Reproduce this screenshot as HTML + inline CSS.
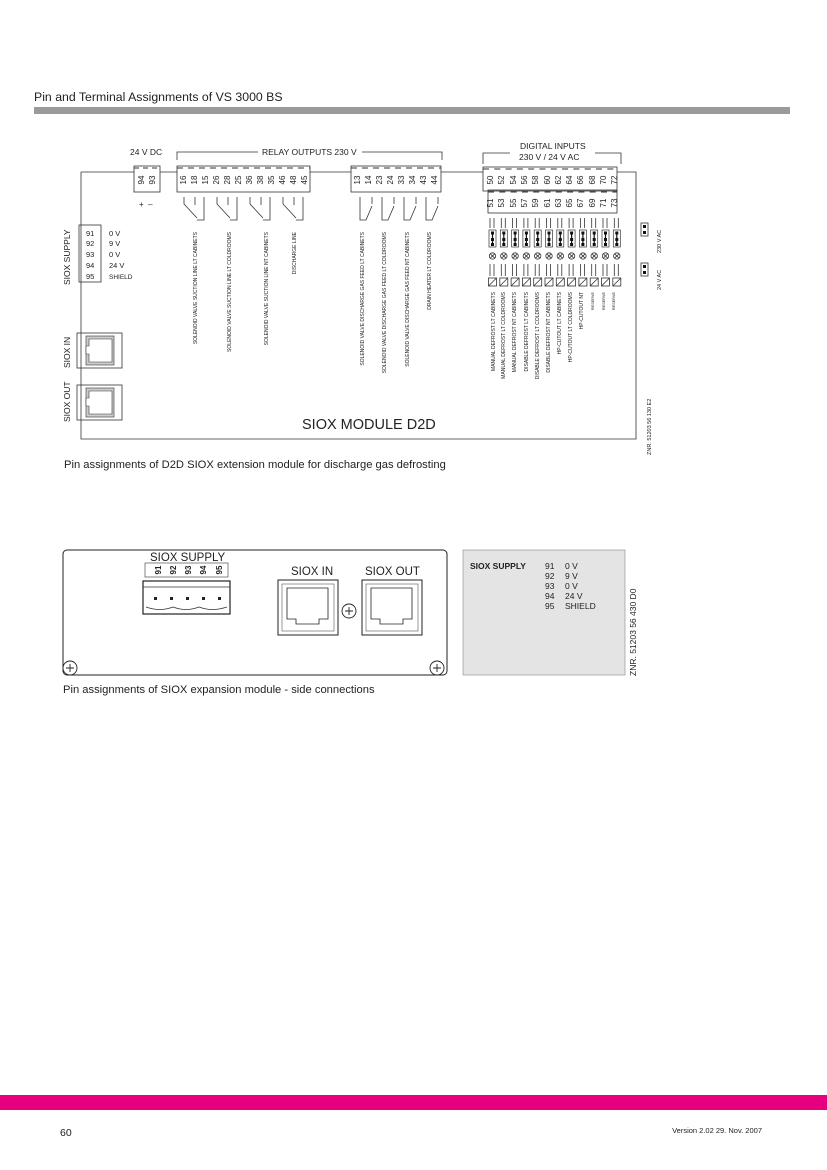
<!DOCTYPE html>
<html><head><meta charset="utf-8"><style>
body{margin:0;background:#fff}
svg{display:block}
text{font-family:"Liberation Sans",sans-serif;fill:#222}
.l{fill:none;stroke:#333;stroke-width:0.8}
.t{font-size:5px;fill:#333}
.n{font-size:8px;fill:#444}
</style></head><body>
<svg width="827" height="1170" viewBox="0 0 827 1170" xmlns="http://www.w3.org/2000/svg">
<rect width="827" height="1170" fill="#fff"/>
<text x="34" y="101" font-size="12.3">Pin and Terminal Assignments of VS 3000 BS</text>
<rect x="34" y="107" width="756" height="7" fill="#9a9a9a"/>

<!-- main frame -->
<path class="l" d="M81,172 H134 M160,172 H177 M310,172 H351 M441,172 H483 M617,172 H636 V439 H81 V172"/>
<!-- 24V DC -->
<text x="130" y="155" font-size="8.5" fill="#333">24 V DC</text>
<rect class="l" x="134" y="166" width="26" height="26" fill="#fff"/>
<line x1="134" y1="168" x2="160" y2="168" stroke="#333" stroke-dasharray="5,4"/>
<g class="n"><text transform="translate(144,180) rotate(-90)" text-anchor="middle">94</text><text transform="translate(155,180) rotate(-90)" text-anchor="middle">93</text></g>
<text x="139" y="207" font-size="8" fill="#666">+ &#160;&#8211;</text>

<!-- relay bracket -->
<path class="l" d="M177,160 V152 H258 M362,152 H442 V160"/>
<text x="262" y="155" font-size="8.5" fill="#333">RELAY OUTPUTS 230 V</text>
<rect class="l" x="177" y="166" width="133" height="26" fill="#fff"/>
<line x1="177" y1="168" x2="310" y2="168" stroke="#333" stroke-dasharray="6,5"/>
<rect class="l" x="351" y="166" width="90" height="26" fill="#fff"/>
<line x1="351" y1="168" x2="441" y2="168" stroke="#333" stroke-dasharray="6,5"/>
<g class="n" text-anchor="middle">
<text transform="translate(186,180) rotate(-90)">16</text><text transform="translate(197,180) rotate(-90)">18</text><text transform="translate(208,180) rotate(-90)">15</text>
<text transform="translate(219,180) rotate(-90)">26</text><text transform="translate(230,180) rotate(-90)">28</text><text transform="translate(241,180) rotate(-90)">25</text>
<text transform="translate(252,180) rotate(-90)">36</text><text transform="translate(263,180) rotate(-90)">38</text><text transform="translate(274,180) rotate(-90)">35</text>
<text transform="translate(285,180) rotate(-90)">46</text><text transform="translate(296,180) rotate(-90)">48</text><text transform="translate(307,180) rotate(-90)">45</text>
<text transform="translate(360,180) rotate(-90)">13</text><text transform="translate(371,180) rotate(-90)">14</text><text transform="translate(382,180) rotate(-90)">23</text><text transform="translate(393,180) rotate(-90)">24</text>
<text transform="translate(404,180) rotate(-90)">33</text><text transform="translate(415,180) rotate(-90)">34</text><text transform="translate(426,180) rotate(-90)">43</text><text transform="translate(437,180) rotate(-90)">44</text>
</g>
<!-- switches -->
<g class="l">
<path d="M184,197 V204 L197,218 M195,197 V205 M204,197 V220 H197"/>
<path d="M217,197 V204 L230,218 M228,197 V205 M237,197 V220 H230"/>
<path d="M250,197 V204 L263,218 M261,197 V205 M270,197 V220 H263"/>
<path d="M283,197 V204 L296,218 M294,197 V205 M303,197 V220 H296"/>
<path d="M360,197 V220 H366 L372,206 M372,197 V204"/>
<path d="M382,197 V220 H388 L394,206 M394,197 V204"/>
<path d="M404,197 V220 H410 L416,206 M416,197 V204"/>
<path d="M426,197 V220 H432 L438,206 M438,197 V204"/>
</g>
<g class="t" text-anchor="end">
<text transform="translate(197,232) rotate(-90)">SOLENOID VALVE SUCTION LINE LT CABINETS</text>
<text transform="translate(231,232) rotate(-90)">SOLENOID VALVE SUCTION LINE LT COLDROOMS</text>
<text transform="translate(268,232) rotate(-90)">SOLENOID VALVE SUCTION LINE NT CABINETS</text>
<text transform="translate(296,232) rotate(-90)">DISCHARGE LINE</text>
<text transform="translate(364,232) rotate(-90)">SOLENOID VALVE  DISCHARGE GAS FEED LT CABINETS</text>
<text transform="translate(386,232) rotate(-90)">SOLENOID VALVE  DISCHARGE GAS FEED LT COLDROOMS</text>
<text transform="translate(409,232) rotate(-90)">SOLENOID VALVE  DISCHARGE GAS FEED NT CABINETS</text>
<text transform="translate(431,232) rotate(-90)">DRAIN HEATER LT COLDROOMS</text>
</g>

<!-- SIOX supply -->
<text transform="translate(70,285) rotate(-90)" font-size="8.5" fill="#333">SIOX SUPPLY</text>
<rect class="l" x="79" y="225" width="22" height="57" fill="#fff"/>
<g font-size="7.5" fill="#444">
<text x="86" y="236">91</text><text x="86" y="246">92</text><text x="86" y="257">93</text><text x="86" y="268">94</text><text x="86" y="279">95</text>
<text x="109" y="236">0 V</text><text x="109" y="246">9 V</text><text x="109" y="257">0 V</text><text x="109" y="268">24 V</text><text x="109" y="279" font-size="6.5">SHIELD</text>
</g>
<text transform="translate(70,368) rotate(-90)" font-size="8.5" fill="#333">SIOX IN</text>
<text transform="translate(70,422) rotate(-90)" font-size="8.5" fill="#333">SIOX OUT</text>
<g>
<rect class="l" x="77" y="333" width="45" height="35" fill="#fff"/>
<rect x="86" y="336" width="28" height="29" fill="#ccc" stroke="#333" stroke-width="0.6"/>
<path d="M89,339 H112 V362 H89 V354 H86 V346 H89 Z" fill="#fff" stroke="#333" stroke-width="0.6"/>
<rect class="l" x="77" y="385" width="45" height="35" fill="#fff"/>
<rect x="86" y="388" width="28" height="29" fill="#ccc" stroke="#333" stroke-width="0.6"/>
<path d="M89,391 H112 V414 H89 V406 H86 V398 H89 Z" fill="#fff" stroke="#333" stroke-width="0.6"/>
</g>
<text x="302" y="429" font-size="14.5" fill="#333">SIOX MODULE D2D</text>

<!-- digital inputs -->
<text x="520" y="149" font-size="8.5" fill="#333">DIGITAL INPUTS</text>
<text x="519" y="160" font-size="8.5" fill="#333">230 V / 24 V AC</text>
<path class="l" d="M483,164 V153 H510 M595,153 H621 V164"/>
<rect class="l" x="483" y="167" width="134" height="24" fill="#fff"/>
<line x1="483" y1="169" x2="617" y2="169" stroke="#333" stroke-dasharray="6,5.3"/>
<rect class="l" x="488" y="190" width="129" height="23" fill="#fff"/>
<line x1="488" y1="192" x2="617" y2="192" stroke="#333" stroke-dasharray="6,5.3"/>
<g class="n" text-anchor="middle">
<text transform="translate(493,180) rotate(-90)">50</text><text transform="translate(504,180) rotate(-90)">52</text><text transform="translate(516,180) rotate(-90)">54</text><text transform="translate(527,180) rotate(-90)">56</text><text transform="translate(538,180) rotate(-90)">58</text><text transform="translate(550,180) rotate(-90)">60</text><text transform="translate(561,180) rotate(-90)">62</text><text transform="translate(572,180) rotate(-90)">64</text><text transform="translate(583,180) rotate(-90)">66</text><text transform="translate(595,180) rotate(-90)">68</text><text transform="translate(606,180) rotate(-90)">70</text><text transform="translate(617,180) rotate(-90)">72</text>
<text transform="translate(493,203) rotate(-90)">51</text><text transform="translate(504,203) rotate(-90)">53</text><text transform="translate(516,203) rotate(-90)">55</text><text transform="translate(527,203) rotate(-90)">57</text><text transform="translate(538,203) rotate(-90)">59</text><text transform="translate(550,203) rotate(-90)">61</text><text transform="translate(561,203) rotate(-90)">63</text><text transform="translate(572,203) rotate(-90)">65</text><text transform="translate(583,203) rotate(-90)">67</text><text transform="translate(595,203) rotate(-90)">69</text><text transform="translate(606,203) rotate(-90)">71</text><text transform="translate(617,203) rotate(-90)">73</text>
</g>
<g id="dcol">
<path class="l" d="M490,218 V228 M494,218 V228 M490,264 V276 M494,264 V276"/>
<rect x="489" y="230" width="7" height="17" fill="#fff" stroke="#333" stroke-width="0.7"/>
<path d="M492.5,233 V244" stroke="#111" stroke-width="1.2"/>
<rect x="491" y="231.5" width="3" height="3" fill="#111"/><rect x="491" y="238" width="3" height="3" fill="#111"/><rect x="491" y="243" width="3" height="3" fill="#111"/>
<circle class="l" cx="492.5" cy="256" r="3.2"/>
<path class="l" d="M490.3,253.8 L494.7,258.2 M494.7,253.8 L490.3,258.2"/>
<rect class="l" x="488.5" y="278" width="8" height="8"/>
<path class="l" d="M488.5,286 L496.5,278"/>
</g>
<use href="#dcol" x="11.3"/><use href="#dcol" x="22.6"/><use href="#dcol" x="33.9"/><use href="#dcol" x="45.2"/><use href="#dcol" x="56.5"/><use href="#dcol" x="67.8"/><use href="#dcol" x="79.1"/><use href="#dcol" x="90.4"/><use href="#dcol" x="101.7"/><use href="#dcol" x="113"/><use href="#dcol" x="124.3"/>
<g class="t" text-anchor="end">
<text transform="translate(495,292) rotate(-90)">MANUAL DEFROST LT CABINETS</text>
<text transform="translate(505,292) rotate(-90)">MANUAL DEFROST LT COLDROOMS</text>
<text transform="translate(516,292) rotate(-90)">MANUAL DEFROST NT CABINETS</text>
<text transform="translate(528,292) rotate(-90)">DISABLE DEFROST LT CABINETS</text>
<text transform="translate(539,292) rotate(-90)">DISABLE DEFROST LT COLDROOMS</text>
<text transform="translate(550,292) rotate(-90)">DISABLE DEFROST NT CABINETS</text>
<text transform="translate(561,292) rotate(-90)">HP-CUTOUT LT CABINETS</text>
<text transform="translate(572,292) rotate(-90)">HP-CUTOUT LT COLDROOMS</text>
<text transform="translate(583,292) rotate(-90)">HP-CUTOUT NT</text>
<text transform="translate(594,292) rotate(-90)" font-size="3.8">RESERVE</text>
<text transform="translate(605,292) rotate(-90)" font-size="3.8">RESERVE</text>
<text transform="translate(615,292) rotate(-90)" font-size="3.8">RESERVE</text>
</g>
<rect class="l" x="641" y="223" width="7" height="13"/><rect x="643" y="225" width="3" height="3" fill="#111"/><rect x="643" y="231" width="3" height="3" fill="#111"/>
<rect class="l" x="641" y="263" width="7" height="13"/><rect x="643" y="265" width="3" height="3" fill="#111"/><rect x="643" y="271" width="3" height="3" fill="#111"/>
<g font-size="5.5" fill="#555">
<text transform="translate(661,253) rotate(-90)">230 V AC</text>
<text transform="translate(661,290) rotate(-90)">24 V AC</text>
<text transform="translate(651,455) rotate(-90)">ZNR. 51203 56 130 E2</text>
</g>

<text x="64" y="468" font-size="11.2">Pin assignments of D2D SIOX extension module for discharge gas defrosting</text>

<!-- lower panel -->
<rect x="63" y="550" width="384" height="125" rx="4" fill="none" stroke="#222" stroke-width="1"/>
<text x="150" y="561" font-size="11.5">SIOX SUPPLY</text>
<rect x="145" y="563" width="83" height="14" fill="none" stroke="#333" stroke-width="0.6"/>
<g font-size="8" font-weight="bold" text-anchor="middle">
<text transform="translate(159,570) rotate(-90)" dominant-baseline="middle">91</text>
<text transform="translate(174,570) rotate(-90)" dominant-baseline="middle">92</text>
<text transform="translate(189,570) rotate(-90)" dominant-baseline="middle">93</text>
<text transform="translate(204,570) rotate(-90)" dominant-baseline="middle">94</text>
<text transform="translate(220,570) rotate(-90)" dominant-baseline="middle">95</text>
</g>
<rect x="143" y="581" width="87" height="33" fill="none" stroke="#222" stroke-width="1.2"/>
<path d="M143,587 H230" stroke="#333" stroke-width="0.7"/>
<path d="M146,607 Q160,612 173,607 Q186,612 199,607 Q212,612 227,607" fill="none" stroke="#333" stroke-width="0.7"/>
<g fill="#222"><rect x="154" y="597" width="3" height="3"/><rect x="170" y="597" width="3" height="3"/><rect x="186" y="597" width="3" height="3"/><rect x="202" y="597" width="3" height="3"/><rect x="218" y="597" width="3" height="3"/></g>
<text x="291" y="575" font-size="11.5">SIOX IN</text>
<text x="365" y="575" font-size="11.5">SIOX OUT</text>
<rect x="278" y="580" width="60" height="55" fill="none" stroke="#222" stroke-width="1"/>
<rect x="282" y="584" width="52" height="47" fill="none" stroke="#555" stroke-width="0.6"/>
<path d="M287,588 H328 V619 H319 V624 H296 V619 H287 Z" fill="none" stroke="#222" stroke-width="0.8"/>
<rect x="362" y="580" width="60" height="55" fill="none" stroke="#222" stroke-width="1"/>
<rect x="366" y="584" width="52" height="47" fill="none" stroke="#555" stroke-width="0.6"/>
<path d="M371,588 H412 V619 H403 V624 H380 V619 H371 Z" fill="none" stroke="#222" stroke-width="0.8"/>
<g fill="none" stroke="#222" stroke-width="0.9">
<circle cx="349" cy="611" r="7"/><path d="M345,611 H353 M349,607 V615"/>
<circle cx="70" cy="668" r="7"/><path d="M66,668 H74 M70,664 V672"/>
<circle cx="437" cy="668" r="7"/><path d="M433,668 H441 M437,664 V672"/>
</g>
<text x="63" y="693" font-size="11.2">Pin assignments of SIOX expansion module  - side connections</text>

<rect x="463" y="550" width="162" height="125" fill="#e4e4e4" stroke="#888" stroke-width="0.6"/>
<text x="470" y="569" font-size="8.5" font-weight="bold">SIOX SUPPLY</text>
<g font-size="8.5" fill="#333">
<text x="545" y="569">91</text><text x="545" y="579">92</text><text x="545" y="589">93</text><text x="545" y="599">94</text><text x="545" y="609">95</text>
<text x="565" y="569">0 V</text><text x="565" y="579">9 V</text><text x="565" y="589">0 V</text><text x="565" y="599">24 V</text><text x="565" y="609">SHIELD</text>
</g>
<text transform="translate(636,676) rotate(-90)" font-size="8.5" fill="#333">ZNR. 51203 56 430 D0</text>

<rect x="0" y="1095" width="827" height="15" fill="#e6007e"/>
<text x="60" y="1136" font-size="10.5">60</text>
<text x="762" y="1133" font-size="7.5" text-anchor="end">Version 2.02   29. Nov. 2007</text>
</svg>
</body></html>
